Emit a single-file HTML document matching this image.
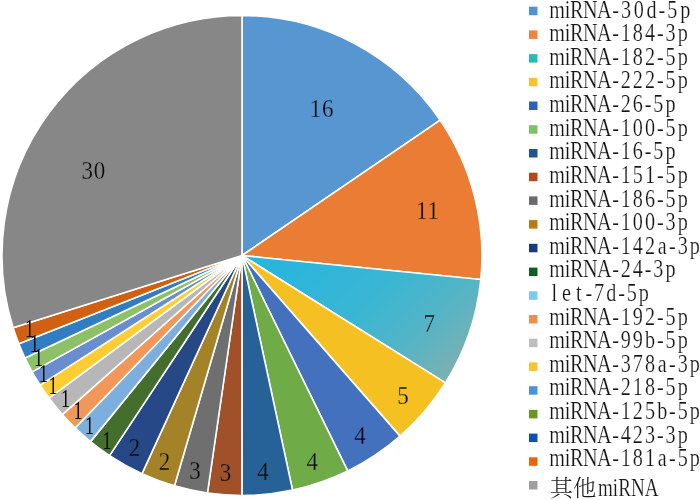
<!DOCTYPE html>
<html lang="zh"><head><meta charset="utf-8"><title>miRNA pie chart</title>
<style>
html,body{margin:0;padding:0;background:#fff;}
body{width:700px;height:500px;overflow:hidden;}
svg{display:block;}
.lab{font-family:"Liberation Serif","Noto Serif CJK SC",serif;font-size:25px;fill:#0a0a0a;text-anchor:middle;}
.leg{font-family:"Liberation Serif","Noto Serif CJK SC",serif;font-size:25.2px;fill:#161616;text-anchor:middle;stroke:#fff;stroke-width:0.2px;}
.cjk{font-family:"Liberation Serif","Noto Serif CJK SC",serif;font-size:23.2px;font-weight:300;fill:#1a1a1a;}
.lat{font-size:25.2px;font-weight:400;stroke:#fff;stroke-width:0.2px;}
</style></head><body>
<svg width="700" height="500" viewBox="0 0 700 500">
<defs>
<linearGradient id="gteal" gradientUnits="userSpaceOnUse" x1="300" y1="240" x2="450" y2="390">
<stop offset="0" stop-color="#28b5de"/><stop offset="0.45" stop-color="#3bb6d3"/><stop offset="0.72" stop-color="#56b4c5"/><stop offset="0.96" stop-color="#7db0b0"/><stop offset="1" stop-color="#80afae"/>
</linearGradient>
</defs>
<rect width="700" height="500" fill="#ffffff"/>
<g stroke="#ffffff" stroke-width="1.6" stroke-linejoin="round">
<path d="M242.00 255.50L242.00 15.50A240.00 240.00 0 0 1 440.22 120.18Z" fill="#5796d0"/>
<path d="M242.00 255.50L440.22 120.18A240.00 240.00 0 0 1 480.80 279.46Z" fill="#ea7c33"/>
<path d="M242.00 255.50L480.80 279.46A240.00 240.00 0 0 1 445.42 382.86Z" fill="url(#gteal)"/>
<path d="M242.00 255.50L445.42 382.86A240.00 240.00 0 0 1 400.02 436.13Z" fill="#f5c022"/>
<path d="M242.00 255.50L400.02 436.13A240.00 240.00 0 0 1 347.70 470.97Z" fill="#4371bd"/>
<path d="M242.00 255.50L347.70 470.97A240.00 240.00 0 0 1 292.55 490.12Z" fill="#6fab46"/>
<path d="M242.00 255.50L292.55 490.12A240.00 240.00 0 0 1 241.92 495.50Z" fill="#266297"/>
<path d="M242.00 255.50L241.92 495.50A240.00 240.00 0 0 1 207.44 493.00Z" fill="#a1512a"/>
<path d="M242.00 255.50L207.44 493.00A240.00 240.00 0 0 1 174.48 485.81Z" fill="#6f6f6f"/>
<path d="M242.00 255.50L174.48 485.81A240.00 240.00 0 0 1 142.02 473.68Z" fill="#a48228"/>
<path d="M242.00 255.50L142.02 473.68A240.00 240.00 0 0 1 109.54 455.63Z" fill="#264886"/>
<path d="M242.00 255.50L109.54 455.63A240.00 240.00 0 0 1 90.48 441.62Z" fill="#446e2e"/>
<path d="M242.00 255.50L90.48 441.62A240.00 240.00 0 0 1 75.07 427.94Z" fill="#7cafdd"/>
<path d="M242.00 255.50L75.07 427.94A240.00 240.00 0 0 1 62.31 414.59Z" fill="#f1975a"/>
<path d="M242.00 255.50L62.31 414.59A240.00 240.00 0 0 1 48.95 398.09Z" fill="#b7b7b7"/>
<path d="M242.00 255.50L48.95 398.09A240.00 240.00 0 0 1 39.97 385.05Z" fill="#ffcd33"/>
<path d="M242.00 255.50L39.97 385.05A240.00 240.00 0 0 1 32.11 371.89Z" fill="#698ed0"/>
<path d="M242.00 255.50L32.11 371.89A240.00 240.00 0 0 1 25.02 358.07Z" fill="#8cc168"/>
<path d="M242.00 255.50L25.02 358.07A240.00 240.00 0 0 1 18.84 343.81Z" fill="#327dc2"/>
<path d="M242.00 255.50L18.84 343.81A240.00 240.00 0 0 1 13.13 327.75Z" fill="#d26012"/>
<path d="M242.00 255.50L13.13 327.75A240.00 240.00 0 0 1 242.00 15.50Z" fill="#868786"/>
</g>
<g class="lab">
<text transform="translate(322.1,116.6) scale(0.92,1)" stroke="#5796d0" stroke-width="0.25" letter-spacing="0.8">16</text>
<text transform="translate(427.8,219.0) scale(0.92,1)" stroke="#ea7c33" stroke-width="0.25" letter-spacing="0.8">11</text>
<text transform="translate(429.2,331.5) scale(0.92,1)" stroke="#50b4c7" stroke-width="0.25">7</text>
<text transform="translate(403.0,403.6) scale(0.92,1)" stroke="#f5c022" stroke-width="0.25">5</text>
<text transform="translate(360.0,444.4) scale(0.92,1)" stroke="#4371bd" stroke-width="0.25">4</text>
<text transform="translate(312.2,470.0) scale(0.92,1)" stroke="#6fab46" stroke-width="0.25">4</text>
<text transform="translate(263.1,480.0) scale(0.92,1)" stroke="#266297" stroke-width="0.25">4</text>
<text transform="translate(225.5,480.6) scale(0.92,1)" stroke="#a1512a" stroke-width="0.25">3</text>
<text transform="translate(194.9,479.0) scale(0.92,1)" stroke="#6f6f6f" stroke-width="0.25">3</text>
<text transform="translate(164.5,470.4) scale(0.92,1)" stroke="#a48228" stroke-width="0.25">2</text>
<text transform="translate(134.5,456.0) scale(0.92,1)" stroke="#264886" stroke-width="0.25">2</text>
<text transform="translate(107.0,449.0) scale(0.72,1)">1</text>
<text transform="translate(89.5,433.6) scale(0.72,1)">1</text>
<text transform="translate(78.0,419.4) scale(0.72,1)">1</text>
<text transform="translate(65.5,407.4) scale(0.72,1)">1</text>
<text transform="translate(53.0,394.4) scale(0.72,1)">1</text>
<text transform="translate(43.5,382.4) scale(0.72,1)">1</text>
<text transform="translate(38.5,366.4) scale(0.72,1)">1</text>
<text transform="translate(34.5,352.0) scale(0.72,1)">1</text>
<text transform="translate(29.5,337.0) scale(0.72,1)">1</text>
<text transform="translate(93.7,179.2) scale(0.92,1)" stroke="#868786" stroke-width="0.25" letter-spacing="0.8">30</text>
</g>
<g>
<rect x="529" y="6.7" width="8.5" height="8.5" fill="#4f93d6"/>
<rect x="529" y="30.4" width="8.5" height="8.5" fill="#f0833b"/>
<rect x="529" y="54.1" width="8.5" height="8.5" fill="#2abab4"/>
<rect x="529" y="77.8" width="8.5" height="8.5" fill="#f7c232"/>
<rect x="529" y="101.5" width="8.5" height="8.5" fill="#2b61b7"/>
<rect x="529" y="125.2" width="8.5" height="8.5" fill="#7cc46a"/>
<rect x="529" y="149.0" width="8.5" height="8.5" fill="#1f5597"/>
<rect x="529" y="172.7" width="8.5" height="8.5" fill="#b2491a"/>
<rect x="529" y="196.4" width="8.5" height="8.5" fill="#6a6a6a"/>
<rect x="529" y="220.1" width="8.5" height="8.5" fill="#ba7a12"/>
<rect x="529" y="243.8" width="8.5" height="8.5" fill="#173c78"/>
<rect x="529" y="267.6" width="8.5" height="8.5" fill="#125c20"/>
<rect x="529" y="291.3" width="8.5" height="8.5" fill="#7cc9f4"/>
<rect x="529" y="315.0" width="8.5" height="8.5" fill="#f18d4c"/>
<rect x="529" y="338.7" width="8.5" height="8.5" fill="#bfbfbf"/>
<rect x="529" y="362.4" width="8.5" height="8.5" fill="#f7c436"/>
<rect x="529" y="386.2" width="8.5" height="8.5" fill="#4a92da"/>
<rect x="529" y="409.9" width="8.5" height="8.5" fill="#6a981e"/>
<rect x="529" y="433.6" width="8.5" height="8.5" fill="#1150b0"/>
<rect x="529" y="457.3" width="8.5" height="8.5" fill="#ee610c"/>
<rect x="529" y="481.0" width="8.5" height="8.5" fill="#9f9f9f"/>
</g><g class="leg" transform="scale(0.8,1)">
<text x="696.5 709.4 720.9 737.8 755.4 769.4 782.5 798.4 814.3 827.4 840.5 856.5" y="17.6">miRNA-30d-5p</text>
<text x="696.5 709.4 720.9 737.8 755.4 769.4 782.1 797.4 812.6 825.4 838.1 853.4" y="41.2">miRNA-184-3p</text>
<text x="696.5 709.4 720.9 737.8 755.4 769.4 782.1 797.4 812.6 825.4 838.1 853.4" y="64.8">miRNA-182-5p</text>
<text x="696.5 709.4 720.9 737.8 755.4 769.4 782.1 797.4 812.6 825.4 838.1 853.4" y="88.5">miRNA-222-5p</text>
<text x="696.5 709.4 720.9 737.8 755.4 769.4 782.1 797.4 810.1 822.9 838.1" y="112.1">miRNA-26-5p</text>
<text x="696.5 709.4 720.9 737.8 755.4 769.4 782.1 797.4 812.6 825.4 838.1 853.4" y="135.7">miRNA-100-5p</text>
<text x="696.5 709.4 720.9 737.8 755.4 769.4 782.1 797.4 810.1 822.9 838.1" y="159.3">miRNA-16-5p</text>
<text x="696.5 709.4 720.9 737.8 755.4 769.4 782.1 797.4 812.6 825.4 838.1 853.4" y="182.9">miRNA-151-5p</text>
<text x="696.5 709.4 720.9 737.8 755.4 769.4 782.1 797.4 812.6 825.4 838.1 853.4" y="206.6">miRNA-186-5p</text>
<text x="696.5 709.4 720.9 737.8 755.4 769.4 782.1 797.4 812.6 825.4 838.1 853.4" y="230.2">miRNA-100-3p</text>
<text x="696.5 709.4 720.9 737.8 755.4 769.4 782.1 797.4 812.6 827.9 840.6 853.4 868.6" y="253.8">miRNA-142a-3p</text>
<text x="696.5 709.4 720.9 737.8 755.4 769.4 782.1 797.4 810.1 822.9 838.1" y="277.4">miRNA-24-3p</text>
<text x="692.9 708.1 723.4 736.1 748.9 764.1 776.9 789.6 804.9" y="301.0">let-7d-5p</text>
<text x="696.5 709.4 720.9 737.8 755.4 769.4 782.1 797.4 812.6 825.4 838.1 853.4" y="324.7">miRNA-192-5p</text>
<text x="696.5 709.4 720.9 737.8 755.4 769.4 782.1 797.4 812.6 825.4 838.1 853.4" y="348.3">miRNA-99b-5p</text>
<text x="696.5 709.4 720.9 737.8 755.4 769.4 782.1 797.4 812.6 827.9 840.6 853.4 868.6" y="371.9">miRNA-378a-3p</text>
<text x="696.5 709.4 720.9 737.8 755.4 769.4 782.1 797.4 812.6 825.4 838.1 853.4" y="395.5">miRNA-218-5p</text>
<text x="696.5 709.4 720.9 737.8 755.4 769.4 782.1 797.4 812.6 827.9 840.6 853.4 868.6" y="419.1">miRNA-125b-5p</text>
<text x="696.5 709.4 720.9 737.8 755.4 769.4 782.1 797.4 812.6 825.4 838.1 853.4" y="442.8">miRNA-423-3p</text>
<text x="696.5 709.4 720.9 737.8 755.4 769.4 782.1 797.4 812.6 827.9 840.6 853.4 868.6" y="466.4">miRNA-181a-5p</text>
</g>
<text class="cjk" x="549.8" y="495.6">其他<tspan class="lat" x="598" textLength="60.5" lengthAdjust="spacingAndGlyphs">miRNA</tspan></text>
</svg></body></html>
